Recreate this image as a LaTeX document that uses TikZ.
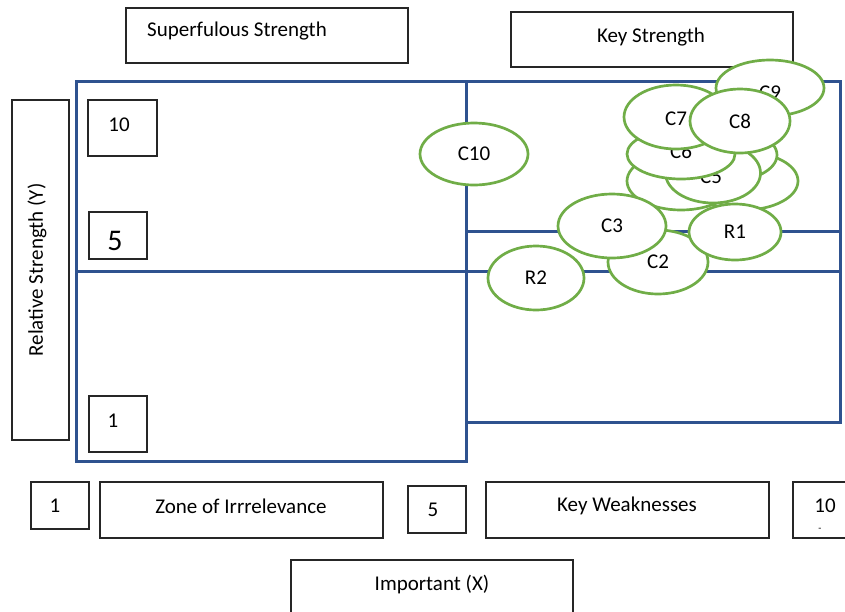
\documentclass[tikz,border=0pt]{standalone}
\usepackage{fontspec}
\setmainfont{Carlito}
\usetikzlibrary{shapes.geometric}
\definecolor{qblue}{HTML}{2F528F}
\definecolor{egreen}{HTML}{70AD47}
\tikzset{
  box/.style={draw=black!85, line width=1.2pt, rectangle, inner sep=0pt},
  txt/.style={inner sep=0pt, font=\fontsize{21}{25}\selectfont},
  quad/.style={draw=qblue, line width=3pt},
  ell/.style={ellipse, draw=egreen, line width=2.7pt, fill=white, inner sep=0pt, font=\fontsize{21}{25}\selectfont},
}
\begin{document}
\begin{tikzpicture}[x=1pt,y=-1pt]
\useasboundingbox (0,0) rectangle (845,611);
% quadrant lines
\draw[quad] (76,81) rectangle (466,461);
\draw[quad] (466,81) -- (840,81) -- (840,422) -- (466,422);
\draw[quad] (76,271) -- (840,271);
\draw[quad] (466,231) -- (840,231);
% boxes
\node[box, minimum width=282pt, minimum height=55pt] (sup) at (267,35.5) {};
\node[txt] (supT) at (237,31) {Superfulous Strength};
\node[box, minimum width=282pt, minimum height=55pt] (key) at (652,39.5) {};
\node[txt] (keyT) at (651,37) {Key Strength};
\node[box, minimum width=57pt, minimum height=340pt] (rel) at (40.5,270) {};
\node[txt, rotate=90] (relT) at (37,270) {Relative Strength (Y)};
\node[box, minimum width=69pt, minimum height=56pt] (b10) at (122.5,128) {};
\node[txt] (b10T) at (119,125) {10};
\node[box, minimum width=58pt, minimum height=47pt] (b5) at (118,235.5) {};
\node[txt, font=\fontsize{30}{34}\selectfont] (b5T) at (115,241) {5};
\node[box, minimum width=58pt, minimum height=56pt] (b1) at (118,424) {};
\node[txt] (b1T) at (113,421) {1};
\node[box, minimum width=58pt, minimum height=47pt] (x1) at (60,505.5) {};
\node[txt] (x1T) at (55,506) {1};
\node[box, minimum width=283pt, minimum height=56pt] (zone) at (241.5,510) {};
\node[txt] (zoneT) at (241,506) {Zone of Irrrelevance};
\node[box, minimum width=58pt, minimum height=47pt] (x5) at (437,509.5) {};
\node[txt] (x5T) at (433,510) {5};
\node[box, minimum width=283pt, minimum height=56pt] (kw) at (627.5,510) {};
\node[txt] (kwT) at (627,506) {Key Weaknesses};
\node[box, minimum width=57pt, minimum height=56pt] (x10) at (821.5,510) {};
\node[txt] (x10T) at (825,506) {10};
\node[txt, font=\fontsize{10}{12}\selectfont] (x10D) at (820,530) {-};
\node[box, minimum width=282pt, minimum height=56pt] (imp) at (432,588) {};
\node[txt] (impT) at (432,584) {Important (X)};
% ellipses
\node[ell, minimum width=108pt, minimum height=62pt] (c10) at (474,154) {C10};
\node[ell, minimum width=96pt, minimum height=64pt] (r2) at (536,278) {R2};
\node[ell, minimum width=108pt, minimum height=56pt] (c9) at (770,88) {};
\node[txt] (c9T) at (770,93) {C9};
\node[ell, minimum width=108pt, minimum height=58pt] (e1) at (744,181) {};
\node[ell, minimum width=108pt, minimum height=58pt] (e2) at (681,181) {};
\node[ell, minimum width=106pt, minimum height=54pt] (c4) at (724,155) {};
\node[ell, minimum width=95pt, minimum height=60pt] (c5) at (713,173) {};
\node[txt] (c5T) at (711,177) {C5};
\node[ell, minimum width=108pt, minimum height=50pt] (c6) at (681,154) {};
\node[txt] (c6T) at (681,151) {C6};
\node[ell, minimum width=104pt, minimum height=64pt] (c7) at (676,117) {};
\node[txt] (c7T) at (676,119) {C7};
\node[ell, minimum width=100pt, minimum height=64pt] (c8) at (740,121) {C8};
\node[ell, minimum width=100pt, minimum height=64pt] (c2) at (658,262) {C2};
\node[ell, minimum width=92pt, minimum height=56pt] (r1) at (735,232) {R1};
\node[ell, minimum width=108pt, minimum height=64pt] (c3) at (612,226) {C3};
\end{tikzpicture}
\end{document}
